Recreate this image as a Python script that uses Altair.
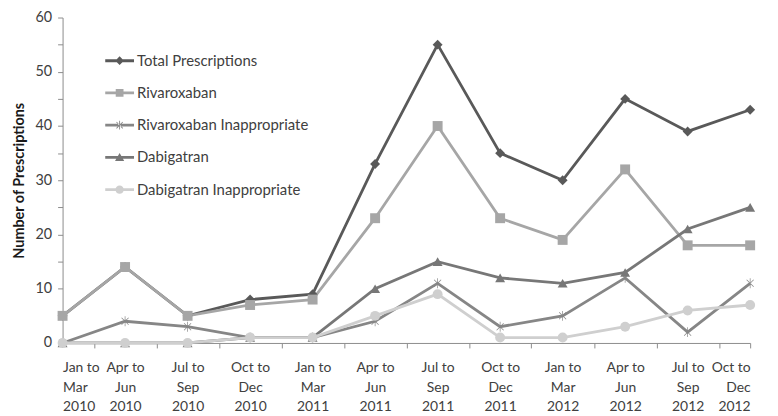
import altair as alt
import pandas as pd

quarters = ["Jan to|Mar|2010", "Apr to|Jun|2010", "Jul to|Sep|2010", "Oct to|Dec|2010",
            "Jan to|Mar|2011", "Apr to|Jun|2011", "Jul to|Sep|2011", "Oct to|Dec|2011",
            "Jan to|Mar|2012", "Apr to|Jun|2012", "Jul to|Sep|2012", "Oct to|Dec|2012"]
series_names = ["Total Prescriptions", "Rivaroxaban", "Rivaroxaban Inappropriate",
                "Dabigatran", "Dabigatran Inappropriate"]
total = [5, 14, 5, 8, 9, 33, 55, 35, 30, 45, 39, 43]
rivaroxaban = [5, 14, 5, 7, 8, 23, 40, 23, 19, 32, 18, 18]
rivaroxaban_inapp = [0, 4, 3, 1, 1, 4, 11, 3, 5, 12, 2, 11]
dabigatran = [0, 0, 0, 1, 1, 10, 15, 12, 11, 13, 21, 25]
dabigatran_inapp = [0, 0, 0, 1, 1, 5, 9, 1, 1, 3, 6, 7]
y_ticks = list(range(0, 65, 5))

colors = ["#595959", "#a6a6a6", "#868686", "#777777", "#cfcfcf"]

star = ("M-0.07,-1H0.07V1H-0.07Z"
        "M-0.76,-0.66L0.66,0.76L0.76,0.66L-0.66,-0.76Z"
        "M0.76,-0.66L-0.66,0.76L-0.76,0.66L0.66,-0.76Z")
plot_shapes = ["diamond", "square", star, "triangle-up", "circle"]
plot_sizes = [100, 100, 150, 120, 100]

bar = "M-1,-0.1H1V0.1H-1Z"
legend_shapes = [
    bar + "M0,-0.3L0.3,0L0,0.3L-0.3,0Z",
    bar + "M-0.27,-0.27H0.27V0.27H-0.27Z",
    bar + "M-0.03,-0.3H0.03V0.3H-0.03Z"
          "M-0.24,-0.2L0.2,0.24L0.24,0.2L-0.2,-0.24Z"
          "M0.24,-0.2L-0.2,0.24L-0.24,0.2L0.2,-0.24Z",
    bar + "M0,-0.3L0.32,0.24H-0.32Z",
    bar + "M-0.29,0A0.29,0.29,0,1,1,0.29,0A0.29,0.29,0,1,1,-0.29,0Z",
]

values = [total, rivaroxaban, rivaroxaban_inapp, dabigatran, dabigatran_inapp]
rows = []
for si, (name, vals) in enumerate(zip(series_names, values)):
    for qi, v in enumerate(vals):
        rows.append({"idx": qi, "series": name, "value": v, "sorder": si})
df = pd.DataFrame(rows)

W, H = 693, 328
label_array = "[" + ",".join("'" + q + "'" for q in quarters) + "]"
x_vals = [i * 0.5 for i in range(23)]

x_enc = alt.X("idx:Q", scale=alt.Scale(domain=[0, 11], nice=False, zero=False),
              axis=alt.Axis(values=x_vals, title=None, grid=False,
                            labelExpr=f"datum.value % 1 == 0 ? split({label_array}[datum.value], '|') : ''",
                            tickOpacity=alt.ExprRef(expr="(datum.value % 1 == 0 && datum.value < 11) ? 0 : 1"),
                            tickSize=5, tickColor="#8c8c8c", domainColor="#8c8c8c",
                            labelFontSize=14, labelColor="#404040", labelPadding=13,
                            labelLineHeight=19.5, labelAngle=0))
y_enc = alt.Y("value:Q", scale=alt.Scale(domain=[0, 60], nice=False),
              axis=alt.Axis(values=y_ticks, title="Number of Prescriptions", grid=False,
                            labelExpr="datum.value % 10 == 0 ? datum.label : ''",
                            tickSize=5, tickColor="#8c8c8c", domainColor="#8c8c8c",
                            labelFontSize=14.5, labelColor="#404040", labelPadding=6,
                            titleFontSize=14.5, titleFontWeight="bold", titleColor="#1a1a1a",
                            titlePadding=9))

color_scale = alt.Scale(domain=series_names, range=colors)

lines = alt.Chart(df).mark_line(strokeWidth=2.8).encode(
    x=x_enc, y=y_enc,
    color=alt.Color("series:N", scale=color_scale, legend=None),
)

points = alt.Chart(df).mark_point(filled=True, opacity=1).encode(
    x=x_enc, y=y_enc,
    color=alt.Color("series:N", scale=color_scale, legend=None),
    shape=alt.Shape("series:N", scale=alt.Scale(domain=series_names, range=plot_shapes), legend=None),
    size=alt.Size("series:N", scale=alt.Scale(domain=series_names, range=plot_sizes), legend=None),
    order=alt.Order("sorder:Q"),
)

leg = alt.Legend(title=None, orient="none", legendX=43, legendY=29, symbolSize=841,
                 labelFontSize=15, labelColor="#404040", rowPadding=9.5, labelOffset=3,
                 padding=0, symbolStrokeWidth=0, symbolOpacity=1, labelLimit=0)

legend_layer = alt.Chart(df).mark_point(filled=True, opacity=1).encode(
    color=alt.Color("series:N", scale=color_scale, legend=leg),
    shape=alt.Shape("series:N", scale=alt.Scale(domain=series_names, range=legend_shapes), legend=leg),
).transform_filter("false")

chart = alt.layer(lines, points, legend_layer).resolve_scale(
    color="independent", shape="independent", size="independent"
).properties(
    width=W, height=H,
    autosize=alt.AutoSizeParams(type="none"),
    padding={"left": 55, "top": 8, "right": 20, "bottom": 71},
).configure(
    font="Lato",
).configure_view(stroke=None)

chart.save("out.html", embed_options={"renderer": "svg", "actions": False})
